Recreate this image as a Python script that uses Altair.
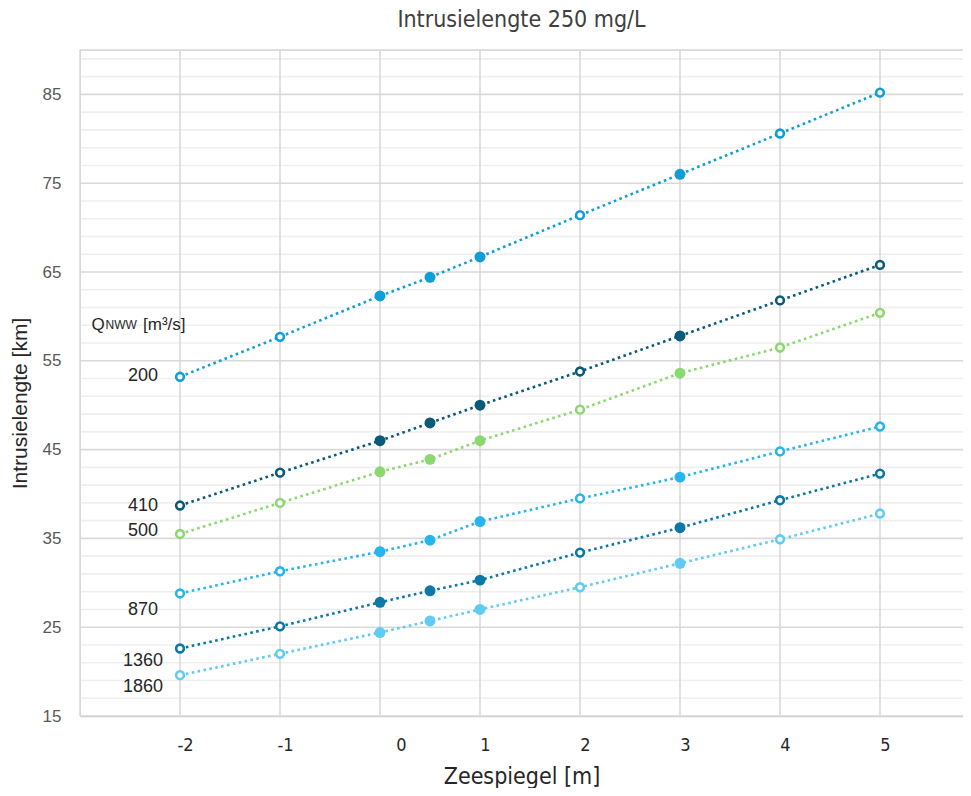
import altair as alt
import pandas as pd

# ---- data ----
sea_level = [-2, -1, 0, 0.5, 1, 2, 3, 4, 5]
filled_at = [0, 0.5, 1, 3]
series_names = ["200", "410", "500", "870", "1360", "1860"]
q200 = [53.2, 57.7, 62.3, 64.4, 66.7, 71.4, 76.0, 80.6, 85.2]
q410 = [38.7, 42.4, 46.0, 48.0, 50.0, 53.8, 57.8, 61.8, 65.8]
q500 = [35.5, 39.0, 42.5, 43.9, 46.0, 49.5, 53.6, 56.5, 60.4]
q870 = [28.8, 31.3, 33.5, 34.8, 36.9, 39.5, 41.9, 44.8, 47.6]
q1360 = [22.6, 25.1, 27.8, 29.1, 30.3, 33.4, 36.2, 39.3, 42.3]
q1860 = [19.6, 22.0, 24.4, 25.7, 27.0, 29.5, 32.2, 34.9, 37.8]
series_values = [q200, q410, q500, q870, q1360, q1860]
colors = ["#0F9ED5", "#0B5A78", "#8BD870", "#27B5EE", "#0B78A6", "#60CBF3"]

label_x = [-2.37] * 6
label_y = [53.25, 38.67, 35.78, 26.95, 21.23, 18.3]

header_text = ["Q", "NWW", "[m\u00b3/s]"]
header_x = [-2.885, -2.745, -2.37]
header_y = [59.07, 59.07, 59.07]
header_size = [17, 12, 17]
header_dy = [0, 6, 0]

x_min, x_max = -3, 5.83
y_min, y_max = 15, 90
x_grid = [-3, -2, -1, 0, 1, 2, 3, 4, 5]
x_ticks = [-2, -1, 0, 1, 2, 3, 4, 5]
y_major = [15, 25, 35, 45, 55, 65, 75, 85, 90]
y_ticks = [15, 25, 35, 45, 55, 65, 75, 85]
y_minor = [17, 19, 21, 23, 27, 29, 31, 33, 37, 39, 41, 43, 47, 49, 51, 53,
           57, 59, 61, 63, 67, 69, 71, 73, 77, 79, 81, 83, 87, 89]

rows = []
for name, vals in zip(series_names, series_values):
    for x, v in zip(sea_level, vals):
        rows.append({"serie": name, "x": x, "y": v, "filled": x in filled_at})
df = pd.DataFrame(rows)

labels_df = pd.DataFrame({"serie": series_names, "x": label_x, "y": label_y})
header_df = pd.DataFrame({"t": header_text, "x": header_x, "y": header_y,
                          "s": header_size, "dy": header_dy})
minor_df = pd.DataFrame({"y": y_minor, "x": x_min, "x2": x_max})
major_df = pd.DataFrame({"y": y_major, "x": x_min, "x2": x_max})
vert_df = pd.DataFrame({"x": x_grid, "y": y_min, "y2": y_max})

NARROW = "Liberation Sans Narrow, DejaVu Sans Condensed, sans-serif"
ARIAL = "Liberation Sans, Arial, sans-serif"

xscale = alt.Scale(domain=[x_min, x_max], nice=False, zero=False)
yscale = alt.Scale(domain=[y_min, y_max], nice=False, zero=False)
cscale = alt.Scale(domain=series_names, range=colors)

x_axis = alt.Axis(values=x_ticks, grid=False,
                  ticks=False, domain=True, domainColor="#c8c8c8", domainWidth=1.6,
                  labelExpr="'' + datum.value",
                  labelFont=NARROW, labelFontSize=18, labelColor="#262626",
                  labelPadding=20,
                  labelOffset={"condition": {"test": "datum.value == 0", "value": 21},
                               "value": 5},
                  title="Zeespiegel [m]", titleFont=NARROW, titleFontSize=23,
                  titleFontWeight="normal", titleColor="#262626",
                  titleY=60, titleBaseline="middle")

y_axis = alt.Axis(values=y_ticks, grid=False, ticks=False, domain=False,
                  labelFont=ARIAL, labelFontSize=17, labelColor="#595959",
                  labelPadding=19,
                  title="Intrusielengte [km]", titleFont=ARIAL, titleFontSize=21,
                  titleFontWeight="normal", titleColor="#262626",
                  titleX=-60, titleY=353, titleAngle=270, titleAlign="center",
                  titleBaseline="middle")

X = alt.X("x:Q", scale=xscale, axis=x_axis)
Y = alt.Y("y:Q", scale=yscale, axis=y_axis)

minor = alt.Chart(minor_df).mark_rule(color="#efefef", strokeWidth=1.6).encode(
    x=X, x2="x2:Q", y=Y)
major = alt.Chart(major_df).mark_rule(color="#d9d9d9", strokeWidth=1.6).encode(
    x=X, x2="x2:Q", y=Y)
vert = alt.Chart(vert_df).mark_rule(color="#d9d9d9", strokeWidth=1.6).encode(
    x=X, y=Y, y2="y2:Q")

base = alt.Chart(df).encode(
    x=X, y=Y,
    color=alt.Color("serie:N", scale=cscale, legend=None),
)

lines = base.mark_line(strokeWidth=2.6, strokeDash=[2.6, 3.4]).encode(
    detail="serie:N", order="x:Q")

hollow = base.transform_filter("!datum.filled").mark_point(
    shape="circle", filled=False, fill="white", fillOpacity=1, size=60,
    strokeWidth=2.6, opacity=1)

solid = base.transform_filter("datum.filled").mark_point(
    shape="circle", filled=True, size=120, opacity=1)

texts = alt.Chart(labels_df).mark_text(
    font=ARIAL, fontSize=18, color="#262626", align="center", baseline="middle"
).encode(x=X, y=Y, text="serie:N")

header = alt.Chart(header_df).mark_text(
    font=ARIAL, color="#262626", align="left", baseline="middle"
).encode(
    x=X, y=Y,
    text="t:N",
    size=alt.Size("s:Q", scale=None, legend=None),
    yOffset=alt.YOffset("dy:Q", scale=None),
)

chart = alt.layer(minor, major, vert, lines, hollow, solid, texts, header).properties(
    width=883, height=666,
    title=alt.TitleParams("Intrusielengte 250 mg/L", font=NARROW, fontSize=23,
                          fontWeight="normal", color="#404040", anchor="middle",
                          baseline="alphabetic", offset=-1, frame="group"),
    padding={"left": 72, "top": 42, "right": 0, "bottom": 72},
    autosize=alt.AutoSizeParams(type="none"),
).configure_view(stroke=None).configure(background="white")

chart.save("out.html", embed_options={"renderer": "svg", "actions": False})
